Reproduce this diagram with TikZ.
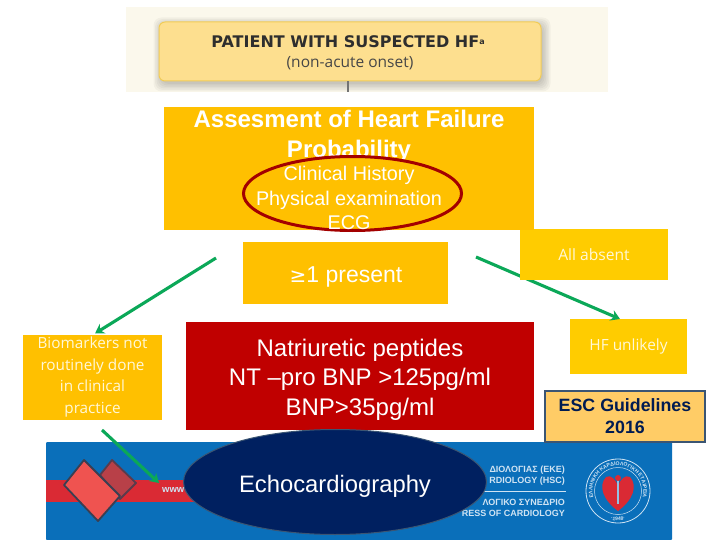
\documentclass[tikz,border=0pt]{standalone}
\usepackage{fontspec}
\setmainfont{Liberation Sans}
\newfontfamily\openf{Open Sans}
\newfontfamily\djv{DejaVu Sans}
\usetikzlibrary{arrows.meta,shapes.geometric,calc,decorations.text}
\definecolor{amber}{HTML}{FFC000}
\definecolor{ambertwo}{HTML}{FFCC00}
\definecolor{crimson}{HTML}{C00000}
\definecolor{navyell}{HTML}{002060}
\definecolor{greenar}{HTML}{0BA858}
\definecolor{bannerblue}{HTML}{0A6FBA}
\definecolor{bandred}{HTML}{DA2A34}
\definecolor{paleblock}{HTML}{FDDF8F}
\definecolor{paleedge}{HTML}{F2CC55}
\definecolor{creambg}{HTML}{FBF8EC}
\definecolor{escfill}{HTML}{FFCC66}
\definecolor{escline}{HTML}{3B5573}
\definecolor{creamtext}{HTML}{FFF8D8}
\definecolor{salmon}{HTML}{EF5350}
\definecolor{darkrose}{HTML}{B84048}
\definecolor{slatedark}{HTML}{3A3F52}
\definecolor{ringblue}{HTML}{CFE3F3}
\tikzset{
 x=1pt,y=-1pt,
 amberbox/.style={fill=amber,draw=none,inner sep=0pt,text=white,align=center},
 yellowbox/.style={fill=ambertwo,draw=none,inner sep=0pt,text=creamtext,align=center},
 lbl/.style={inner sep=0pt,align=center},
 bannertext/.style={lbl,font=\bfseries\fontsize{9}{9}\selectfont,text=ringblue,anchor=east},
 greenarrow/.style={draw=greenar,line width=3.1pt,-{Stealth[length=9pt,width=11pt]}},
 softshadow/.style={fill=black,fill opacity=.035,rounded corners=8pt},
}
\begin{document}
\begin{tikzpicture}
\useasboundingbox (0,0) rectangle (720,540);
\fill[white] (0,0) rectangle (720,540);
% top picture
\fill[creambg] (126,7) rectangle (608,92);
\foreach \d in {0,1.5,3,4.5,6,7.5}{
  \fill[softshadow] (159-\d+2,22-\d+3) rectangle (541+\d+2,81+\d+3);
}
\node[rounded corners=6pt,minimum width=382pt,minimum height=59pt,inner sep=0pt,fill=paleblock,draw=paleedge,line width=1pt] (patient) at (350,51.5) {};
\node[lbl,font=\djv\bfseries\fontsize{16}{17}\selectfont,text=black!82] (pt1) at (348,42) {PATIENT WITH SUSPECTED HF\raisebox{3pt}{\fontsize{8}{8}\selectfont a}};
\node[lbl,font=\openf\fontsize{15.5}{17}\selectfont,text=black!72] (pt2) at (350,63.5) {(non-acute onset)};
\coordinate (stubtop) at (348,81.5);
\coordinate (stubend) at (348,92);
\draw[black!55,line width=1.2pt] (stubtop) -- (stubend);
% banner
\fill[bannerblue,rounded corners=1pt] (46,442) rectangle (672,540);
\fill[bandred] (46,480) rectangle (195,502);
\fill[darkrose,draw=slatedark!80!bandred,line width=1.8pt,line join=round] (112,460) -- (136,483) -- (120,499) -- (100,475) -- cycle;
\fill[salmon,draw=slatedark,line width=1.8pt,line join=round] (84,460) -- (120,496) -- (98,521) -- (64,485) -- cycle;
\node[lbl,font=\bfseries\fontsize{9.5}{10}\selectfont,text=ringblue,anchor=west] (www) at (162,490) {www};
\node[bannertext] (b1) at (565,470) {ΔΙΟΛΟΓΙΑΣ (ΕΚΕ)};
\node[bannertext] (b2) at (565,481) {RDIOLOGY (HSC)};
\coordinate (ruleL) at (470,491);
\coordinate (ruleR) at (566,491);
\draw[ringblue,line width=.6pt] (ruleL) -- (ruleR);
\node[bannertext] (b3) at (565,502) {ΛΟΓΙΚΟ ΣΥΝΕΔΡΙΟ};
\node[bannertext] (b4) at (565,513) {RESS OF CARDIOLOGY};
% logo
\node[circle,draw=ringblue,line width=.8pt,minimum size=64pt,inner sep=0pt] (logo) at (618,491) {};
\node[circle,draw=ringblue,line width=.5pt,minimum size=47pt,inner sep=0pt] (logoin) at (618,491) {};
\path[postaction={decorate,decoration={text along path,text align=center,
   text={|\bfseries\fontsize{5.2}{6}\selectfont\color{ringblue}|ΕΛΛΗΝΙΚΗ ΚΑΡΔΙΟΛΟΓΙΚΗ ΕΤΑΙΡΕΙΑ}}}]
   (618,491) ++(215:25.5pt) arc[start angle=215,end angle=-35,radius=25.5pt];
\path[postaction={decorate,decoration={text along path,text align=center,
   text={|\bfseries\fontsize{5}{6}\selectfont\color{ringblue}|·1948·}}}]
   (618,491) ++(-115:29.5pt) arc[start angle=-115,end angle=-65,radius=29.5pt];
\fill[bandred] (618,511) .. controls (603,500) and (598,486) .. (606,477) .. controls (611,474) and (616,480) .. (618,486) .. controls (620,480) and (625,474) .. (630,477) .. controls (638,486) and (633,500) .. (618,511) -- cycle;
\fill[ringblue!70!bannerblue] (617,480) rectangle (619,504);
\fill[bandred] (618,478) circle[radius=3pt];
% arrow end points
\coordinate (a1s) at (216,258);
\coordinate (a1e) at (95,333.5);
\coordinate (a2s) at (476,257);
\coordinate (a2e) at (620,319);
\coordinate (a3s) at (102,430);
\coordinate (a3e) at (159,483);
% HF unlikely, then arrow, then All absent (which hides part of it)
\node[yellowbox,minimum width=117pt,minimum height=55pt,font=\openf\fontsize{15.4}{17}\selectfont] (unlikely) at (628.5,346.5) {HF unlikely};
\draw[greenarrow] (a2s) -- (a2e);
\node[yellowbox,minimum width=148pt,minimum height=51pt,font=\openf\fontsize{15.6}{17}\selectfont] (absent) at (594,254.5) {All absent};
% amber assessment box
\node[amberbox,minimum width=370pt,minimum height=123pt] (assess) at (349,168.5) {};
\node[lbl,text=white,font=\bfseries\fontsize{24}{30}\selectfont] (assesstxt) at (349,136.5) {Assesment of Heart Failure\\Probability};
\node[ellipse,fill=amber,draw=crimson!85!black,line width=3pt,minimum width=218pt,minimum height=74pt,inner sep=0pt] (oval) at (352.5,193.5) {};
\node[lbl,text=white,font=\fontsize{19.8}{24.3}\selectfont] (clin) at (349,198) {Clinical History\\Physical examination\\ECG};
% present
\node[amberbox,minimum width=205pt,minimum height=62pt] (present) at (345.5,273) {};
\node[lbl,text=white,font=\fontsize{23}{26}\selectfont] (presenttxt) at (346,277) {{\djv\fontsize{20}{26}\selectfont ≥}1 present};
% biomarkers
\node[amberbox,text=creamtext,minimum width=139pt,minimum height=85pt,font=\openf\fontsize{15.3}{21.5}\selectfont] (bio) at (92.5,377) {Biomarkers not\\routinely done\\in clinical\\practice};
\draw[greenarrow] (a1s) -- (a1e);
% natriuretic
\node[fill=crimson,inner sep=0pt,minimum width=348pt,minimum height=108pt] (natri) at (360,376) {};
\node[lbl,text=white,font=\fontsize{24}{29.5}\selectfont] (natritxt) at (360,379.5) {Natriuretic peptides\\NT --pro BNP >125pg/ml\\BNP>35pg/ml};
% ESC
\node[fill=escfill,draw=escline,line width=1.8pt,minimum width=160pt,minimum height=51pt,inner sep=0pt,align=center,text=navyell!85!black,font=\bfseries\fontsize{17.8}{22}\selectfont] (esc) at (625,416.5) {ESC Guidelines\\2016};
% echo
\draw[greenarrow] (a3s) -- (a3e);
\node[ellipse,fill=navyell,draw=escline,line width=1pt,minimum width=303pt,minimum height=105pt,inner sep=0pt] (echo) at (335,482) {};
\node[lbl,text=white,font=\fontsize{23.8}{26}\selectfont] (echotxt) at (335,486) {Echocardiography};
\end{tikzpicture}
\end{document}
